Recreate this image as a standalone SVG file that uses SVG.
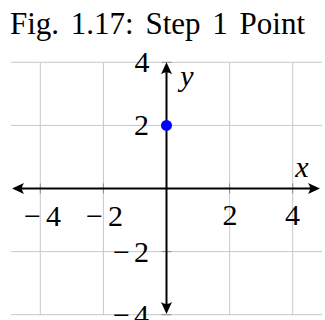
<svg xmlns="http://www.w3.org/2000/svg" width="325" height="320" viewBox="0 0 325 320">
<style>
.grid{stroke:#c8c8c8;stroke-width:1;fill:none}
.tick{stroke:#8a8a8a;stroke-width:1;fill:none}
.axis{stroke:#000;stroke-width:2;fill:none}
</style>
<defs>
<marker id="arr" markerUnits="userSpaceOnUse" markerWidth="20" markerHeight="14" refX="12" refY="7" orient="auto-start-reverse" overflow="visible">
<path d="M15,7 L3,1.5 Q7,7 3,12.5 Z" fill="#000"/>
</marker>
</defs>
<rect width="325" height="320" fill="#fff"/>
<text id="title" x="10" y="34" font-size="31" font-family="Liberation Serif" word-spacing="4">Fig. 1.17: Step 1 Point</text>
<g id="grid">
<path class="grid" d="M11,62.3H322M11,125.4H322M11,251.6H322M11,314.7H322M40.3,62.3V315M103.4,62.3V315M229.6,62.3V315M292.7,62.3V315"/>
<path class="tick" d="M40.3,183.5V193.5M103.4,183.5V193.5M229.6,183.5V193.5M292.7,183.5V193.5M161.5,62.3H171.5M161.5,125.4H171.5M161.5,251.6H171.5M161.5,314.7H171.5"/>
</g>
<g id="connectors">
<line class="axis" x1="15" y1="188.5" x2="317" y2="188.5" marker-start="url(#arr)" marker-end="url(#arr)"/>
<line class="axis" x1="166.5" y1="65.3" x2="166.5" y2="311" marker-start="url(#arr)" marker-end="url(#arr)"/>
</g>
<g id="labels">
<text x="302" y="177" font-size="30" font-family="Liberation Serif" font-style="italic" text-anchor="middle">x</text>
<text x="187" y="86" font-size="30" font-family="Liberation Serif" font-style="italic" text-anchor="middle">y</text>
<text x="61" y="226" font-size="30" font-family="Liberation Serif" text-anchor="end">−<tspan dx="5">4</tspan></text>
<text x="123" y="226" font-size="30" font-family="Liberation Serif" text-anchor="end">−<tspan dx="5">2</tspan></text>
<text x="230" y="225" font-size="30" font-family="Liberation Serif" text-anchor="middle">2</text>
<text x="292.5" y="225" font-size="30" font-family="Liberation Serif" text-anchor="middle">4</text>
<text x="142" y="72" font-size="30" font-family="Liberation Serif" text-anchor="middle">4</text>
<text x="141.5" y="135" font-size="30" font-family="Liberation Serif" text-anchor="middle">2</text>
<text x="149" y="262" font-size="30" font-family="Liberation Serif" text-anchor="end">−<tspan dx="4">2</tspan></text>
<text x="149" y="325" font-size="30" font-family="Liberation Serif" text-anchor="end">−<tspan dx="4">4</tspan></text>
</g>
<g id="point">
<circle cx="166.5" cy="125.4" r="5.5" fill="#0000ff"/>
</g>
</svg>
